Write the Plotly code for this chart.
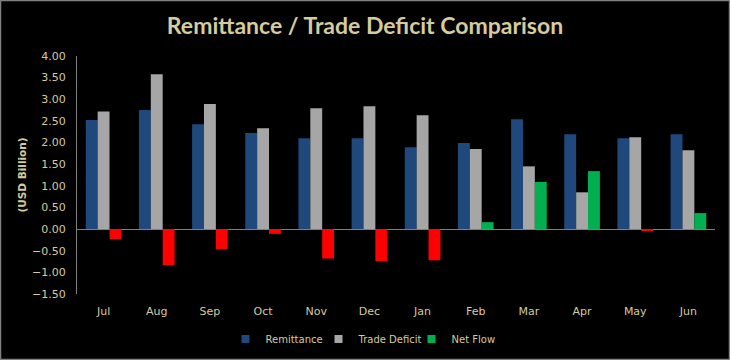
import plotly.graph_objects as go

months = ["Jul", "Aug", "Sep", "Oct", "Nov", "Dec", "Jan", "Feb", "Mar", "Apr", "May", "Jun"]
remittance = [2.52, 2.75, 2.42, 2.22, 2.10, 2.10, 1.89, 1.99, 2.54, 2.19, 2.10, 2.19]
trade_deficit = [2.72, 3.58, 2.89, 2.33, 2.79, 2.84, 2.63, 1.85, 1.45, 0.85, 2.12, 1.82]
net_flow = [-0.23, -0.83, -0.46, -0.11, -0.68, -0.74, -0.72, 0.16, 1.09, 1.34, -0.03, 0.37]

series_names = ["Remittance", "Trade Deficit", "Net Flow"]
series_colors = ["#1f497d", "#a6a6a6", "#00b050"]
neg_color = "#ff0000"

txt = "#d6cb9c"
net_colors = [series_colors[2] if v >= 0 else neg_color for v in net_flow]

fig = go.Figure()
for name, vals, col in zip(series_names, [remittance, trade_deficit, net_flow],
                           [series_colors[0], series_colors[1], net_colors]):
    fig.add_trace(go.Bar(x=months, y=vals, name=name, showlegend=False,
                         marker=dict(color=col, line_width=0)))
# legend entries
for name, col in zip(series_names, series_colors):
    fig.add_trace(go.Scatter(x=[None], y=[None], mode="markers", name=name,
                             marker=dict(symbol="square", size=8, color=col)))

pl, pr, pt, pb = 77, 15, 56, 66
W, H = 730, 360
pw, ph = W - pl - pr, H - pt - pb

fig.update_layout(
    width=W, height=H,
    paper_bgcolor="black", plot_bgcolor="black",
    margin=dict(l=pl, r=pr, t=pt, b=pb, autoexpand=False),
    barmode="group", bargap=0.33, bargroupgap=0,
    title=dict(text="Remittance / Trade Deficit Comparison", x=0.5, xanchor="center",
               xref="container", y=1 - 26 / H, yanchor="middle",
               font=dict(family="Lato", size=23, color=txt, weight="bold")),
    font=dict(family="DejaVu Sans", color=txt, size=10),
    showlegend=True,
    legend=dict(orientation="h", x=0.5, xanchor="center", xref="container",
                y=1 - 339 / H, yref="container", yanchor="middle",
                font=dict(family="DejaVu Sans", size=10, color=txt), bgcolor="rgba(0,0,0,0)",
                itemwidth=30, entrywidth=48, entrywidthmode="pixels",
                traceorder="normal", itemclick=False),
    xaxis=dict(showgrid=False, showline=False, ticks="", tickfont=dict(size=11, color=txt),
               zeroline=False, automargin=False, ticklabelstandoff=9),
    yaxis=dict(range=[-1.5, 4.0], dtick=0.5, tickformat=".2f", showgrid=False,
               showline=True, linecolor="#808080", linewidth=1, ticks="",
               zeroline=True, zerolinecolor="#808080", zerolinewidth=1,
               tickfont=dict(size=11, color=txt), automargin=False, ticklabelstandoff=8,
               title=dict(text="<b>(USD Billion)</b>", font=dict(size=10.5, color=txt), standoff=3)),
    shapes=[dict(type="rect", xref="paper", yref="paper",
                 x0=-(pl - 0.5) / pw, x1=(W - pl - 0.5) / pw,
                 y0=-(pb - 0.5) / ph, y1=(H - pb - 0.5) / ph,
                 line=dict(color="#808080", width=1.5), fillcolor="rgba(0,0,0,0)")],
)

fig.write_html("out.html", config={"displayModeBar": False},
               post_script="document.body.style.margin='0';document.body.style.padding='0';")
